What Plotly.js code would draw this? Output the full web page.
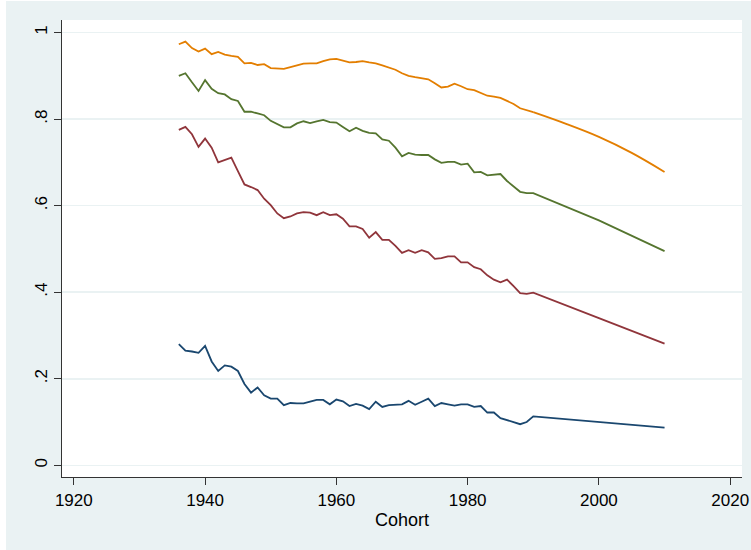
<!DOCTYPE html>
<html>
<head>
<meta charset="utf-8">
<script src="https://cdn.plot.ly/plotly-3.0.1.min.js"></script>
<style>
  html, body { margin: 0; padding: 0; background: #ffffff; width: 751px; height: 550px; overflow: hidden; }
  #chart { position: absolute; left: 6px; top: 1px; width: 745px; height: 549px; }
</style>
</head>
<body>
<div id="chart"></div>
<script>
// Years with observed annual values
const yearsObs = [1936,1937,1938,1939,1940,1941,1942,1943,1944,1945,1946,1947,1948,1949,1950,1951,1952,1953,1954,1955,1956,1957,1958,1959,1960,1961,1962,1963,1964,1965,1966,1967,1968,1969,1970,1971,1972,1973,1974,1975,1976,1977,1978,1979,1980,1981,1982,1983,1984,1985,1986,1987,1988,1989,1990];
// Projection years
const yearsProj = [1990, 1995, 2000, 2005, 2010];
const yearsProjLine = [2000, 2010];

const orangeObs = [0.973,0.979,0.964,0.956,0.963,0.950,0.955,0.949,0.946,0.944,0.929,0.930,0.925,0.927,0.918,0.917,0.916,0.920,0.924,0.928,0.929,0.929,0.934,0.938,0.939,0.935,0.931,0.932,0.934,0.931,0.929,0.924,0.919,0.914,0.906,0.900,0.897,0.895,0.892,0.883,0.873,0.875,0.882,0.876,0.869,0.867,0.860,0.854,0.852,0.849,0.842,0.835,0.825,0.820,0.816];
const orangeProj = [0.816, 0.789, 0.759, 0.722, 0.678];

const greenObs = [0.900,0.906,0.885,0.865,0.890,0.870,0.860,0.857,0.846,0.842,0.817,0.817,0.813,0.809,0.796,0.788,0.781,0.781,0.790,0.795,0.791,0.795,0.798,0.793,0.792,0.782,0.772,0.780,0.773,0.768,0.767,0.753,0.750,0.734,0.714,0.722,0.718,0.717,0.717,0.707,0.699,0.701,0.701,0.695,0.697,0.677,0.678,0.670,0.672,0.673,0.657,0.645,0.632,0.629,0.629];
const greenProj = [0.566, 0.495];

const redObs = [0.775,0.782,0.765,0.736,0.755,0.734,0.700,0.705,0.711,0.680,0.649,0.643,0.636,0.616,0.601,0.582,0.571,0.575,0.582,0.585,0.584,0.578,0.585,0.578,0.580,0.570,0.552,0.552,0.546,0.526,0.539,0.521,0.521,0.507,0.491,0.497,0.491,0.497,0.492,0.477,0.479,0.483,0.483,0.469,0.469,0.458,0.453,0.439,0.429,0.423,0.429,0.414,0.398,0.396,0.399];
const redProj = [0.340, 0.281];

const blueObs = [0.280,0.265,0.263,0.260,0.276,0.240,0.218,0.231,0.228,0.218,0.188,0.168,0.180,0.162,0.154,0.154,0.139,0.144,0.143,0.143,0.147,0.151,0.151,0.141,0.152,0.148,0.137,0.142,0.138,0.130,0.147,0.135,0.139,0.140,0.141,0.149,0.140,0.147,0.154,0.137,0.144,0.141,0.138,0.141,0.141,0.135,0.137,0.122,0.122,0.109,0.105,0.100,0.095,0.100,0.113];
const blueProj = [0.100, 0.087];

const xTickVals = [1920, 1940, 1960, 1980, 2000, 2020];
const yTickVals = [0, 0.2, 0.4, 0.6, 0.8, 1];
const yTickText = ['0', '.2', '.4', '.6', '.8', '1'];

const colors = { blue: '#1A476F', red: '#90353B', green: '#55752F', orange: '#E37E00' };

function mk(x, y, color, shape) {
  return { x: x, y: y, type: 'scatter', mode: 'lines', line: { color: color, width: 1.8, shape: shape || 'linear', smoothing: 1 }, hoverinfo: 'x+y', showlegend: false };
}

const data = [
  mk(yearsObs.concat(yearsProjLine), blueObs.concat(blueProj), colors.blue),
  mk(yearsObs.concat(yearsProjLine), redObs.concat(redProj), colors.red),
  mk(yearsObs.concat(yearsProjLine), greenObs.concat(greenProj), colors.green),
  mk(yearsObs, orangeObs, colors.orange),
  mk(yearsProj, orangeProj, colors.orange, 'spline')
];

const fontFam = '"Liberation Sans", Arial, Helvetica, sans-serif';

const layout = {
  width: 745, height: 549,
  margin: { l: 56, r: 9, t: 19, b: 73 },
  paper_bgcolor: '#EAF2F3',
  plot_bgcolor: '#ffffff',
  font: { family: fontFam, size: 17, color: '#000000' },
  showlegend: false,
  xaxis: {
    range: [1918.2, 2021.8],
    tickvals: xTickVals,
    ticktext: xTickVals.map(String),
    ticks: 'outside', ticklen: 7, tickwidth: 1, tickcolor: '#333333',
    showline: true, linecolor: '#333333', linewidth: 1.3,
    showgrid: false, zeroline: false,
    tickfont: { family: fontFam, size: 17, color: '#000000' },
    title: { text: 'Cohort', font: { family: fontFam, size: 18, color: '#000000' }, standoff: 4 }
  },
  yaxis: {
    range: [-0.027, 1.029],
    tickvals: yTickVals,
    ticktext: yTickText,
    tickangle: -90,
    ticks: 'outside', ticklen: 7, tickwidth: 1, tickcolor: '#333333',
    showline: true, linecolor: '#333333', linewidth: 1.3,
    showgrid: true, gridcolor: '#EAF2F3', gridwidth: 1.5,
    zeroline: false,
    tickfont: { family: fontFam, size: 17, color: '#000000' }
  }
};

Plotly.newPlot('chart', data, layout, { staticPlot: true, displayModeBar: false });
</script>
</body>
</html>
